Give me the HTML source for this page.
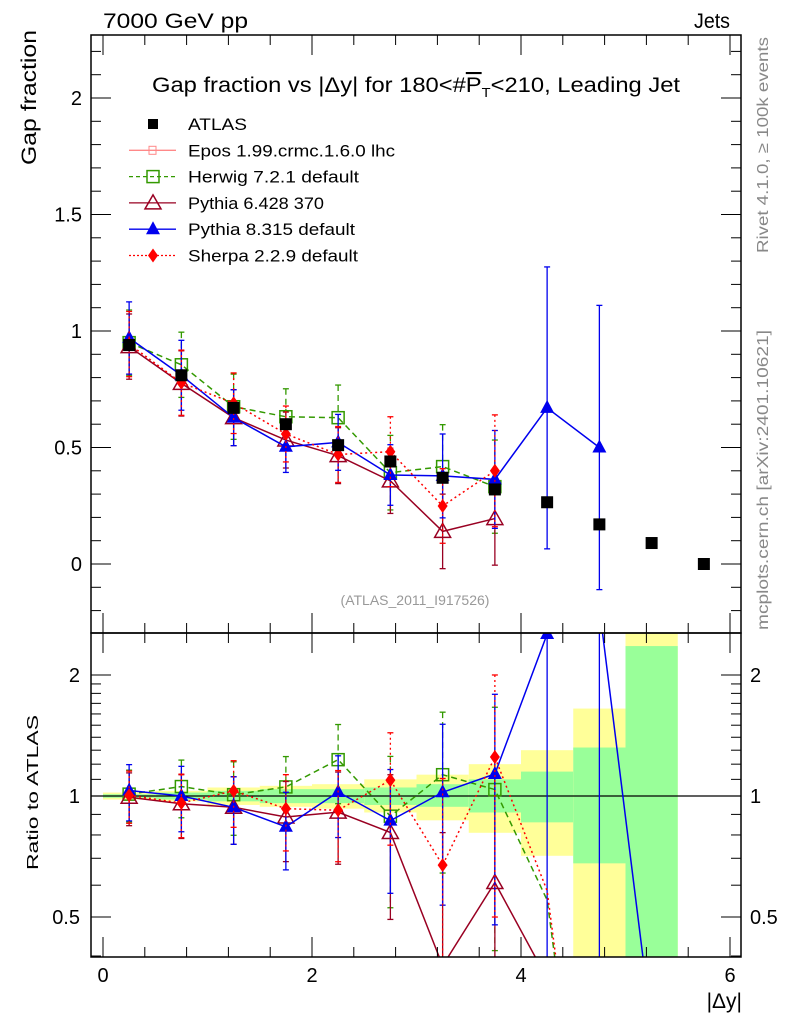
<!DOCTYPE html>
<html><head><meta charset="utf-8"><style>
html,body{margin:0;background:#fff;width:786px;height:1024px;overflow:hidden;}
svg{display:block;font-family:"Liberation Sans",sans-serif;}
</style></head><body>
<svg id="c" width="786" height="1024" viewBox="0 0 786 1024">
<defs>
<clipPath id="clipMain"><rect x="91" y="35" width="650" height="598"/></clipPath>
<clipPath id="clipRatio"><rect x="91" y="633" width="650" height="324"/></clipPath>
</defs>
<g id="bands" clip-path="url(#clipRatio)"></g>
<g id="mainMarks" clip-path="url(#clipMain)"></g>
<g id="ratioMarks" clip-path="url(#clipRatio)"></g>
<rect x="91" y="35" width="650" height="598" fill="none" stroke="#000" stroke-width="1.5"/>
<rect x="91" y="633" width="650" height="324" fill="none" stroke="#000" stroke-width="1.5"/>
<g id="axes"></g>
<text x="103" y="28" font-size="21" textLength="145" lengthAdjust="spacingAndGlyphs">7000 GeV pp</text>
<text x="694" y="28" font-size="21" textLength="36" lengthAdjust="spacingAndGlyphs">Jets</text>
<text x="152" y="92" font-size="21" textLength="528" lengthAdjust="spacingAndGlyphs">Gap fraction vs |Δy| for 180&lt;#<tspan text-decoration="overline">P</tspan><tspan font-size="13" dy="5">T</tspan><tspan dy="-5">&lt;210, Leading Jet</tspan></text>
<text x="415" y="605" font-size="14" fill="#999" text-anchor="middle">(ATLAS_2011_I917526)</text>
<text transform="translate(768,253) rotate(-90)" font-size="16" fill="#888" textLength="216" lengthAdjust="spacingAndGlyphs">Rivet 4.1.0, ≥ 100k events</text>
<text transform="translate(768,630) rotate(-90)" font-size="16" fill="#888" textLength="300" lengthAdjust="spacingAndGlyphs">mcplots.cern.ch [arXiv:2401.10621]</text>
<text transform="translate(36,165) rotate(-90)" font-size="21" textLength="135" lengthAdjust="spacingAndGlyphs">Gap fraction</text>
<text transform="translate(38,870) rotate(-90)" font-size="16" textLength="155" lengthAdjust="spacingAndGlyphs">Ratio to ATLAS</text>
<text x="742" y="1008" font-size="21" text-anchor="end">|Δy|</text>
<g id="legend"></g>
</svg>
<script>
const xs = [0.25,0.75,1.25,1.75,2.25,2.75,3.25,3.75,4.25,4.75,5.25,5.75];
const atlas = [0.94,0.81,0.67,0.60,0.51,0.44,0.37,0.32,0.265,0.17,0.09,0.00];
const herwig = [0.95,0.855,0.675,0.632,0.628,0.392,0.418,0.332,0.146,0.01];
const herwigErr = [0.14,0.14,0.14,0.12,0.14,0.16,0.18,0.2,0,0];
const py6 = [0.933,0.775,0.628,0.532,0.465,0.357,0.14,0.195,0.093];
const py6Err = [0.14,0.14,0.12,0.12,0.12,0.14,0.16,0.2,0];
const py8 = [0.97,0.81,0.628,0.503,0.522,0.382,0.378,0.363,0.67,0.50,0.024];
const py8Err = [0.155,0.15,0.12,0.11,0.12,0.13,0.18,0.21,0.605,0.61,0];
const sherpa = [0.944,0.778,0.69,0.558,0.47,0.482,0.249,0.40,0.154,0.01];
const sherpaErr = [0.14,0.14,0.13,0.12,0.12,0.15,0.16,0.24,0,0];
const binLo = [0,0.5,1,1.5,2,2.5,3,3.5,4,4.5,5];
const yelLo = [0.98,0.97,0.95,0.94,0.93,0.91,0.87,0.81,0.71,0.2,0.2];
const yelHi = [1.02,1.03,1.05,1.06,1.07,1.10,1.13,1.20,1.30,1.65,2.7];
const grnLo = [0.99,0.98,0.97,0.96,0.96,0.95,0.94,0.91,0.86,0.68,0.2];
const grnHi = [1.01,1.02,1.03,1.04,1.04,1.05,1.07,1.10,1.15,1.32,2.36];
const mainTicks = ["0","0.5","1","1.5","2"];
const ratioTicks = ["0.5","1","2"];
const xTicks = ["0","2","4","6"];

const NS="http://www.w3.org/2000/svg";
const X=v=>103+104.5*v;
const Y=v=>564-233*v;
const R=r=>796-174.6*Math.log(Math.max(r,0.01));
function mk(tag,attrs,parent){const e=document.createElementNS(NS,tag);for(const k in attrs)e.setAttribute(k,attrs[k]);parent.appendChild(e);return e;}
const bands=document.getElementById('bands'),axes=document.getElementById('axes');
const mainG=document.getElementById('mainMarks'),ratioG=document.getElementById('ratioMarks');

binLo.forEach((b,i)=>{
  const y=mk('rect',{x:X(b),y:R(yelHi[i]),width:X(b+0.5)-X(b),height:R(yelLo[i])-R(yelHi[i]),fill:'#ffff99'},bands);
  
  
  const g=mk('rect',{x:X(b),y:R(grnHi[i]),width:X(b+0.5)-X(b),height:R(grnLo[i])-R(grnHi[i]),fill:'#99ff99'},bands);
  
  
});
mk('line',{x1:91,x2:741,y1:R(1),y2:R(1),stroke:'#000','stroke-width':1.2},bands);

for(let k=-2;k<=22;k++){const vv=k/10;const maj=(k%5===0);const L=maj?20:10;
  mk('line',{x1:91,x2:91+L,y1:Y(vv),y2:Y(vv),stroke:'#000'},axes);mk('line',{x1:741,x2:741-L,y1:Y(vv),y2:Y(vv),stroke:'#000'},axes);}
mainTicks.forEach(t=>{const e=mk('text',{x:82,y:Y(+t)+7,'font-size':20,'text-anchor':'end'},axes);e.textContent=t;
  
  });
[0.4,0.5,0.6,0.7,0.8,0.9,1,1.1,1.2,1.3,1.4,1.5,1.6,1.7,1.8,1.9,2].forEach(r=>{const maj=(r==0.5||r==1||r==2);const L=maj?20:10;
  mk('line',{x1:91,x2:91+L,y1:R(r),y2:R(r),stroke:'#000'},axes);mk('line',{x1:741,x2:741-L,y1:R(r),y2:R(r),stroke:'#000'},axes);});
ratioTicks.forEach(t=>{[[80,'end'],[750,'start']].forEach(([x,a])=>{const e=mk('text',{x:x,y:R(+t)+7,'font-size':20,'text-anchor':a},axes);e.textContent=t;
  
  });});
for(let k=0;k<=15;k++){const v=k*0.4;const maj=(k%5===0);const L=maj?20:10;
  mk('line',{x1:X(v),x2:X(v),y1:633,y2:633-L,stroke:'#000'},axes);mk('line',{x1:X(v),x2:X(v),y1:35,y2:35+L,stroke:'#000'},axes);
  mk('line',{x1:X(v),x2:X(v),y1:957,y2:957-L,stroke:'#000'},axes);mk('line',{x1:X(v),x2:X(v),y1:633,y2:633+L,stroke:'#000'},axes);}
xTicks.forEach(t=>{const e=mk('text',{x:X(+t),y:982,'font-size':20,'text-anchor':'middle'},axes);e.textContent=t;
  
  });

function marker(type,x,y,color,g){
  if(type==='sq') return mk('rect',{x:x-6,y:y-6,width:12,height:12,fill:'none',stroke:color,'stroke-width':1.5},g);
  if(type==='otri') return mk('path',{d:`M${x},${y-8}L${x+8},${y+6}L${x-8},${y+6}Z`,fill:'none',stroke:color,'stroke-width':1.5},g);
  if(type==='tri') return mk('path',{d:`M${x},${y-8}L${x+7},${y+5}L${x-7},${y+5}Z`,fill:color},g);
  if(type==='dia') return mk('path',{d:`M${x},${y-7}L${x+5},${y}L${x},${y+7}L${x-5},${y}Z`,fill:color},g);
  return mk('rect',{x:x-6,y:y-6,width:12,height:12,fill:color},g);
}
const series=[
 {name:'herwig',vals:herwig,err:herwigErr,color:'#339900',dash:'6,4',m:'sq',mainN:8},
 {name:'pythia6',vals:py6,err:py6Err,color:'#990022',dash:'',m:'otri',mainN:8},
 {name:'pythia8',vals:py8,err:py8Err,color:'#0000ee',dash:'',m:'tri',mainN:10},
 {name:'sherpa',vals:sherpa,err:sherpaErr,color:'#ff0000',dash:'2,3',m:'dia',mainN:8}
];
function drawSeries(s,g,fy,ratio){
  const n=ratio?s.vals.length:s.mainN;
  const vals=s.vals.slice(0,n);
  const pts=vals.map((v,i)=>[X(xs[i]),fy(ratio?v/atlas[i]:v)]);
  const l=mk('polyline',{points:pts.map(p=>p.join(',')).join(' '),fill:'none',stroke:s.color,'stroke-width':1.5,'stroke-dasharray':s.dash},g);
  
  
  vals.forEach((v,i)=>{
    if(s.err[i]<=0) return;
    const d=ratio?atlas[i]:1;const e=s.err[i]/d;const c=v/d;
    const x=X(xs[i]);const lo=Math.max(c-e,ratio?0.001:-0.12);
    mk('line',{x1:x,x2:x,y1:fy(c+e),y2:fy(lo),stroke:s.color,'stroke-width':1.3,'stroke-dasharray':s.dash},g);
    mk('line',{x1:x-3,x2:x+3,y1:fy(c+e),y2:fy(c+e),stroke:s.color,'stroke-width':1.3},g);
    mk('line',{x1:x-3,x2:x+3,y1:fy(lo),y2:fy(lo),stroke:s.color,'stroke-width':1.3},g);
    const m=marker(s.m,x,fy(c),s.color,g);
    
    
  });
}
series.forEach(s=>drawSeries(s,mainG,Y,false));
series.forEach(s=>drawSeries(s,ratioG,R,true));
atlas.forEach((v,i)=>{
  const m=marker('blk',X(xs[i]),Y(v),'#000',mainG);
  
  
});

const lg=document.getElementById('legend');
const leg=[['ATLAS','blk','#000','',59],['Epos 1.99.crmc.1.6.0 lhc','eps','#ff8888','',207],['Herwig 7.2.1 default','sq','#339900','4,3',171],['Pythia 6.428 370','otri','#990022','',136],['Pythia 8.315 default','tri','#0000ee','',167],['Sherpa 2.2.9 default','dia','#ff0000','2,2',170]];
leg.forEach((l,i)=>{
  const y=124+26.3*i;
  if(i>0) mk('line',{x1:129,x2:176,y1:y,y2:y,stroke:l[2],'stroke-width':1.3,'stroke-dasharray':l[3]},lg);
  if(l[1]==='eps'){mk('rect',{x:149,y:y-4,width:7,height:8,fill:'none',stroke:l[2]},lg);}
  else if(l[1]==='blk') mk('rect',{x:148,y:y-5,width:10,height:10,fill:'#000'},lg);
  else marker(l[1],153,y,l[2],lg);
  const t=mk('text',{x:188,y:y+6,'font-size':17,textLength:l[4],lengthAdjust:'spacingAndGlyphs'},lg);t.textContent=l[0];
  
  
});
</script>
</body></html>
